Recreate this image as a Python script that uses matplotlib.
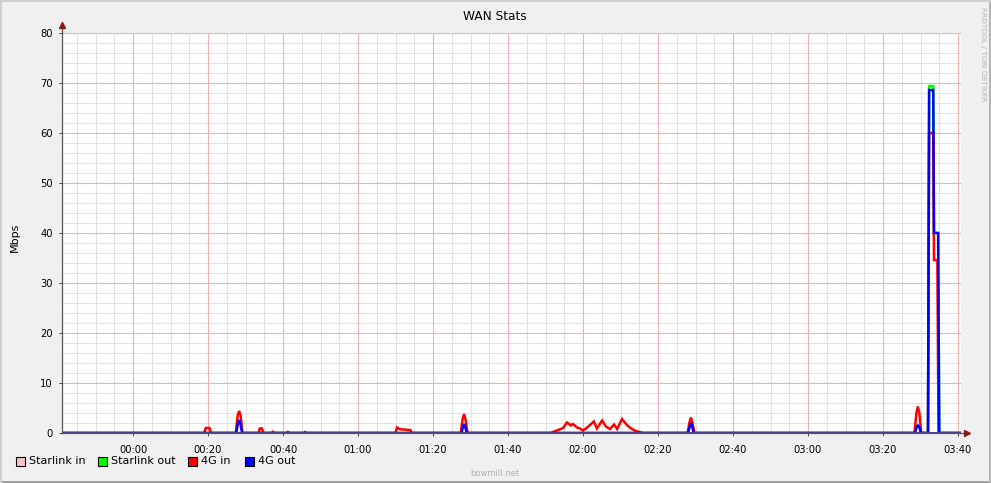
import matplotlib
matplotlib.use("Agg")
import matplotlib.pyplot as plt
from matplotlib.patches import Rectangle

# ---------------- data (time in minutes after 00:00, value in Mbps) ----------------
title = "WAN Stats"
y_label = "Mbps"
series_names = ["Starlink in", "Starlink out", "4G in", "4G out"]
series_colors = ["#ffc0cb", "#00ff00", "#ff0000", "#0000ff"]

starlink_in_t = [-19, 221]
starlink_in_v = [0, 0]

starlink_out_t = [-19, 212.0, 212.3, 213.4, 213.6, 214.7, 215.0, 221]
starlink_out_v = [0, 0, 69.4, 69.4, 40.0, 40.0, 0, 0]

g4_in_t = [-19, 19.0, 19.4, 20.4, 20.8, 27.4, 27.9, 28.3, 28.7, 29.2,
           33.5, 33.8, 34.4, 34.7, 37.0, 37.3, 37.8, 41.0, 41.3, 41.8, 45.5, 45.8, 46.3,
           70.0, 70.4, 71.0, 71.7, 72.5, 73.3, 74.0, 74.3,
           87.4, 87.9, 88.3, 88.7, 89.2,
           111.5, 112.0, 114.7, 115.7, 116.8, 117.3, 118.4, 119.2, 120.0, 121.1, 122.9,
           123.7, 125.1, 126.1, 127.2, 128.3, 129.1, 130.4, 131.7, 132.8, 134.1, 136.0,
           147.9, 148.4, 148.8, 149.2, 149.7,
           208.4, 208.9, 209.3, 209.7, 210.2,
           212.0, 212.3, 213.4, 213.6, 214.5, 214.8, 221]
g4_in_v = [0, 0, 1.0, 1.0, 0, 0, 3.5, 4.4, 3.5, 0,
           0, 0.9, 0.9, 0, 0, 0.25, 0, 0, 0.2, 0, 0, 0.2, 0,
           0, 1.1, 0.8, 0.7, 0.7, 0.6, 0.6, 0,
           0, 2.8, 3.8, 2.6, 0,
           0, 0.2, 1.0, 2.1, 1.5, 1.8, 1.1, 0.9, 0.5, 1.1, 2.3,
           0.9, 2.5, 1.3, 0.8, 1.7, 0.8, 2.8, 1.6, 0.9, 0.4, 0,
           0, 2.2, 3.1, 2.0, 0,
           0, 4.0, 5.3, 4.0, 0,
           0, 60.0, 60.0, 34.6, 34.6, 0, 0]

g4_out_t = [-19, 27.5, 28.0, 28.3, 28.6, 29.1,
            87.6, 88.0, 88.3, 88.6, 89.0,
            148.0, 148.5, 148.8, 149.1, 149.5,
            208.5, 209.0, 209.3, 209.7, 210.1,
            212.0, 212.3, 213.4, 213.6, 214.7, 215.0, 221]
g4_out_v = [0, 0, 2.0, 2.6, 2.0, 0,
            0, 1.3, 1.8, 1.2, 0,
            0, 1.4, 2.0, 1.4, 0,
            0, 1.2, 1.5, 1.2, 0,
            0, 68.6, 68.6, 40.0, 40.0, 0, 0]

x_tick_minutes = [0, 20, 40, 60, 80, 100, 120, 140, 160, 180, 200, 220]
x_tick_labels = ["00:00", "00:20", "00:40", "01:00", "01:20", "01:40",
                 "02:00", "02:20", "02:40", "03:00", "03:20", "03:40"]
y_ticks = [0, 10, 20, 30, 40, 50, 60, 70, 80]
x_minor_step = 5
y_minor_step = 2

# ---------------- figure ----------------
W, H = 991, 483
fig = plt.figure(figsize=(W / 100, H / 100), dpi=100, facecolor="#f0f0f0")

def fx(px):
    return px / W

def fy(py):
    return 1 - py / H

# outer frame
fig.patches.append(Rectangle((0, fy(483)), 1, 2 / H, transform=fig.transFigure,
                             facecolor="#a0a0a0", edgecolor="none"))
fig.patches.append(Rectangle((fx(989), 0), 2 / W, 1, transform=fig.transFigure,
                             facecolor="#b4b4b4", edgecolor="none"))
fig.patches.append(Rectangle((0, fy(2)), 1, 2 / H, transform=fig.transFigure,
                             facecolor="#cfcfcf", edgecolor="none"))
fig.patches.append(Rectangle((0, 0), 2 / W, 1, transform=fig.transFigure,
                             facecolor="#cfcfcf", edgecolor="none"))

x0, x1 = 62, 961
y0, y1 = 33, 433
ax = fig.add_axes([fx(x0), fy(y1), (x1 - x0) / W, (y1 - y0) / H])
ax.set_facecolor("white")
xmin, xmax = (x0 - 133) / 3.75, (x1 - 133) / 3.75
ax.set_xlim(xmin, xmax)
ax.set_ylim(0, 80)

for s in ax.spines.values():
    s.set_visible(False)

ax.set_xticks(x_tick_minutes)
ax.set_xticklabels(x_tick_labels)
ax.set_yticks(y_ticks)
ax.minorticks_off()

# grid drawn explicitly (minor grey, major light red)
xm = x_minor_step * int(xmin // x_minor_step)
minor_x = []
while xm <= xmax:
    if xm not in x_tick_minutes:
        minor_x.append(xm)
    xm += x_minor_step
minor_y = [v for v in range(0, 81, y_minor_step) if v not in y_ticks]
ax.vlines(minor_x, 0, 80, colors="#e2e2e2", linewidth=0.8, zorder=1)
ax.hlines(minor_y, xmin, xmax, colors="#e2e2e2", linewidth=0.8, zorder=1)
ax.vlines(x_tick_minutes, 0, 80, colors="#f2b0b0", linewidth=0.8, zorder=1.5)
ax.hlines(y_ticks[1:], xmin, xmax, colors="#f2b0b0", linewidth=0.8, zorder=1.5)

ax.tick_params(axis="both", which="major", labelsize=7.2, colors="#444444",
               labelcolor="#000000", length=2.5, width=0.7)
ax.tick_params(axis="x", pad=6)
ax.tick_params(axis="y", pad=4)

# series
ts = [starlink_in_t, starlink_out_t, g4_in_t, g4_out_t]
vs = [starlink_in_v, starlink_out_v, g4_in_v, g4_out_v]
for t, v, c, n in zip(ts, vs, series_colors, series_names):
    ax.plot(t, v, color=c, linewidth=1.8, label=n, zorder=3, solid_joinstyle="miter")

# zero baseline look (blend of all lines near zero)
ax.axhline(0, color="#4a3c8c", linewidth=2.2, zorder=4)

# axes lines with arrows
ax.plot([0, 0], [0, 1.012], transform=ax.transAxes, color="#555555",
        linewidth=0.9, clip_on=False, zorder=5)
ax.plot([0, 1.005], [0, 0], transform=ax.transAxes, color="#555555",
        linewidth=0.9, clip_on=False, zorder=5)
ax.plot([0], [1.02], marker="^", markersize=4, color="#8b1a1a",
        transform=ax.transAxes, clip_on=False, zorder=6)
ax.plot([1.007], [0], marker=">", markersize=4, color="#8b1a1a",
        transform=ax.transAxes, clip_on=False, zorder=6)

# texts
fig.text(fx(495), fy(16), title, ha="center", va="center", fontsize=8.7)
fig.text(fx(15), fy(237), y_label, ha="center", va="center", rotation=90, fontsize=8)
fig.text(fx(983), fy(7), "RRDTOOL / TOBI OETIKER", ha="center", va="top",
         rotation=270, fontsize=5.3, color="#b4b4b4")
fig.text(fx(495), fy(474), "bowmill.net", ha="center", va="center",
         fontsize=6, color="#b0b0b0")

# legend
box_x = [16, 98, 188, 245]
for bx, c, n in zip(box_x, series_colors, series_names):
    fig.patches.append(Rectangle((fx(bx), fy(465.5)), 8.5 / W, 8.5 / H,
                                 transform=fig.transFigure,
                                 facecolor=c, edgecolor="black", linewidth=0.8))
    fig.text(fx(bx + 13), fy(461), n, ha="left", va="center", fontsize=8)

fig.savefig("out.png", dpi=100, facecolor=fig.get_facecolor())
